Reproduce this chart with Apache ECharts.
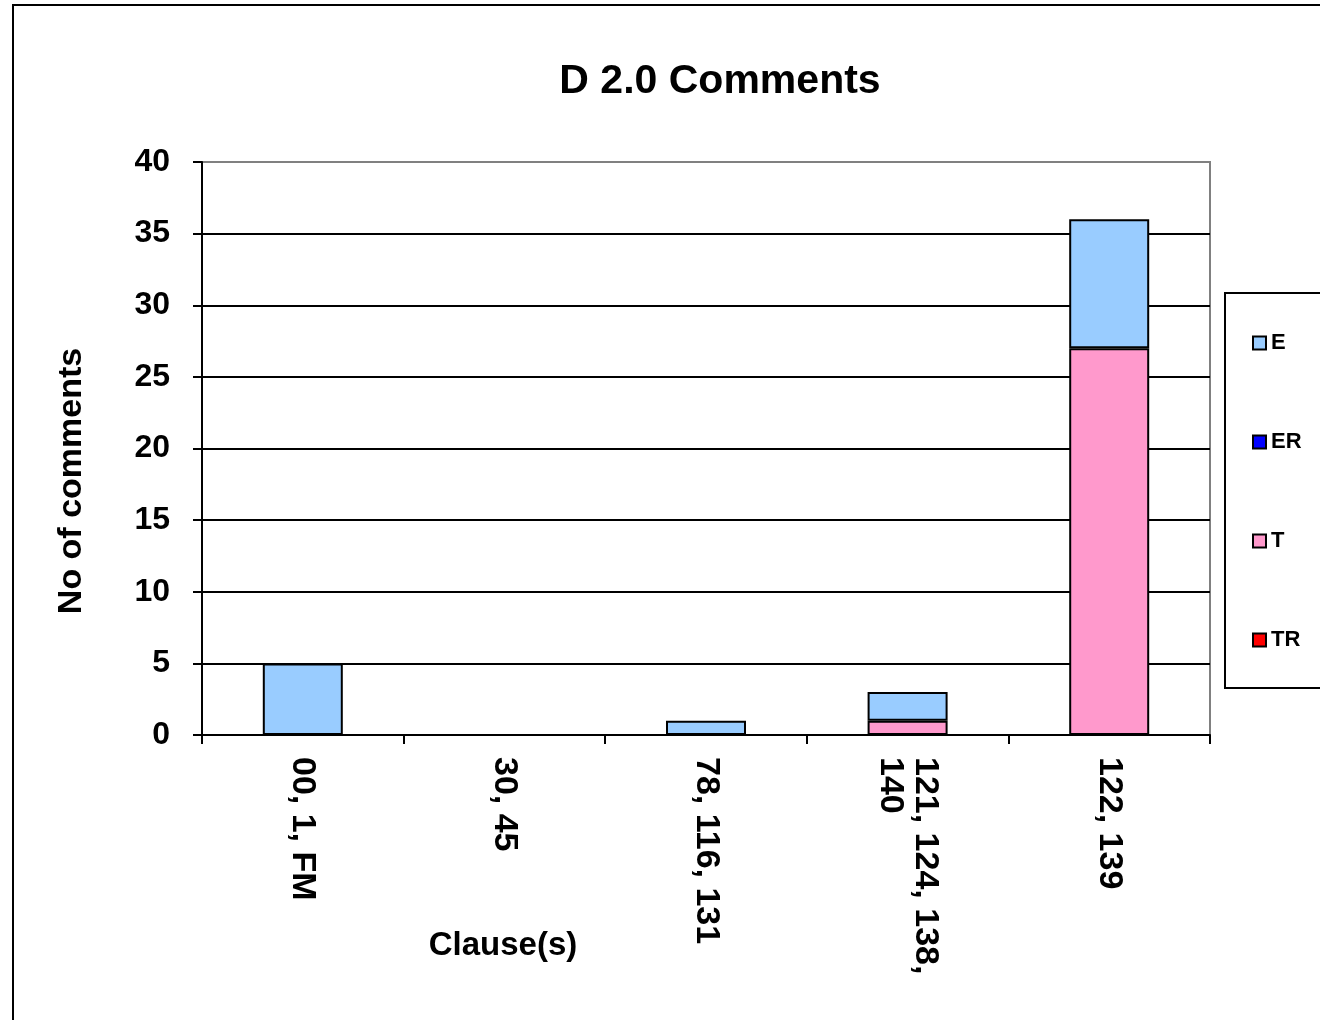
<!DOCTYPE html>
<html>
<head>
<meta charset="utf-8">
<title>D 2.0 Comments</title>
<script src="https://cdn.jsdelivr.net/npm/echarts@6/dist/echarts.min.js"></script>
<style>
  html, body { margin: 0; padding: 0; background: #fff; }
  #chart { width: 1320px; height: 1020px; }
</style>
</head>
<body>
<div id="chart"></div>
<script>
// clause groups on the x axis
const clauses = ['00, 1, FM', '30, 45', '78, 116, 131', '121, 124, 138, 140', '122, 139']
// comment counts per type
const valuesE = [5, 0, 1, 2, 9]
const valuesER = [0, 0, 0, 0, 0]
const valuesT = [0, 0, 0, 1, 27]
const valuesTR = [0, 0, 0, 0, 0]
const legendOrder = ['E', 'ER', 'T', 'TR']

const font = '"Liberation Sans", Arial, sans-serif'

const chart = echarts.init(document.getElementById('chart'))

// empty segments are left out so they don't draw a border line
const bar = (name, data, color) => ({
  name: name,
  type: 'bar',
  stack: 'total',
  barWidth: 80,
  data: data.map(v => (v === 0 ? '-' : v)),
  animation: false,
  itemStyle: { color: color, borderColor: '#000', borderWidth: 2 }
})

chart.setOption({
  backgroundColor: '#fff',
  textStyle: { fontFamily: font },
  title: {
    text: 'D 2.0 Comments',
    left: 720,
    textAlign: 'center',
    top: 61,
    padding: 0,
    textStyle: { fontFamily: font, fontSize: 41, fontWeight: 'bold', color: '#000' }
  },
  grid: {
    left: 202,
    right: 110,
    top: 162,
    bottom: 285,
    containLabel: false,
    outerBoundsMode: 'none',
    show: true,
    borderColor: '#808080',
    borderWidth: 2,
    backgroundColor: 'transparent'
  },
  legend: {
    data: legendOrder,
    orient: 'vertical',
    left: 1252,
    top: 331,
    itemWidth: 13,
    itemHeight: 13,
    itemGap: 75,
    padding: 0,
    icon: 'rect',
    textStyle: { fontFamily: font, fontSize: 22, fontWeight: 'bold', color: '#000', lineHeight: 24 }
  },
  xAxis: {
    type: 'category',
    data: clauses,
    axisLine: { lineStyle: { color: '#000', width: 2 } },
    axisTick: { show: true, length: 9, lineStyle: { color: '#000', width: 2 } },
    axisLabel: {
      interval: 0,
      rotate: -90,
      margin: 22,
      width: 236,
      overflow: 'break',
      fontFamily: font,
      fontSize: 34,
      fontWeight: 'bold',
      color: '#000',
      lineHeight: 35
    },
    splitLine: { show: false }
  },
  yAxis: {
    type: 'value',
    min: 0,
    max: 40,
    interval: 5,
    axisLine: { show: true, lineStyle: { color: '#000', width: 2 } },
    axisTick: { show: true, length: 9, lineStyle: { color: '#000', width: 2 } },
    axisLabel: { margin: 32, fontFamily: font, fontSize: 32, fontWeight: 'bold', color: '#000' },
    splitLine: { show: true, showMaxLine: false, lineStyle: { color: '#000', width: 2 } }
  },
  graphic: [
    { // outer frame
      type: 'rect',
      shape: { x: 13, y: 5, width: 1400, height: 1100 },
      style: { fill: 'none', stroke: '#000', lineWidth: 2 },
      silent: true
    },
    { // legend box
      type: 'rect',
      shape: { x: 1225, y: 293, width: 200, height: 395 },
      style: { fill: 'none', stroke: '#000', lineWidth: 2 },
      silent: true
    },
    { // y axis title
      type: 'text',
      x: 72,
      y: 481,
      rotation: Math.PI / 2,
      style: {
        text: 'No of comments',
        font: 'bold 34px ' + font,
        fill: '#000',
        textAlign: 'center',
        textVerticalAlign: 'middle'
      },
      silent: true
    },
    { // x axis title
      type: 'text',
      x: 503,
      y: 946,
      style: {
        text: 'Clause(s)',
        font: 'bold 33px ' + font,
        fill: '#000',
        textAlign: 'center',
        textVerticalAlign: 'middle'
      },
      silent: true
    }
  ],
  // bottom of the stack first
  series: [
    bar('TR', valuesTR, '#FF0000'),
    bar('T', valuesT, '#FF99CC'),
    bar('ER', valuesER, '#0000FF'),
    bar('E', valuesE, '#99CCFF')
  ]
})
</script>
</body>
</html>
